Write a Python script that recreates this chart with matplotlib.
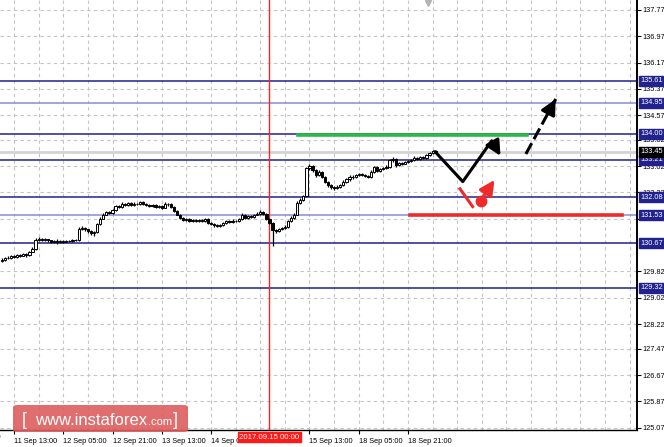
import matplotlib.pyplot as plt
import matplotlib.transforms as mtransforms
from matplotlib.patches import FancyBboxPatch

plt.rcParams['font.family'] = ['Liberation Sans', 'DejaVu Sans']

# hourly candles, index 0 = 11 Sep 09:00
closes = [130.18, 130.22, 130.24, 130.28, 130.26, 130.31, 130.30, 130.35, 130.33, 130.42, 130.50,
          130.78, 130.82, 130.78, 130.80, 130.76, 130.72, 130.75, 130.70, 130.74, 130.72, 130.75, 130.73, 130.77, 130.76,
          131.12, 131.15, 131.10, 131.05, 130.98, 131.02, 131.25, 131.42, 131.55, 131.62, 131.60, 131.68,
          131.80, 131.78, 131.88, 131.85, 131.90, 131.84, 131.88, 131.86, 131.92, 131.87, 131.85, 131.80, 131.83,
          131.78, 131.80, 131.76, 131.88, 131.86, 131.78,
          131.65, 131.55, 131.45, 131.38, 131.40, 131.35, 131.38, 131.36, 131.38, 131.35, 131.40,
          131.30, 131.25, 131.22, 131.20, 131.24, 131.28, 131.35, 131.33, 131.36, 131.34, 131.40,
          131.55, 131.45, 131.50, 131.48, 131.55, 131.58, 131.62, 131.57, 131.42, 131.30, 131.08,
          131.05, 131.10, 131.14, 131.18, 131.35, 131.45, 131.55, 131.90, 132.00, 132.10,
          132.95,
          133.02, 132.90, 132.75, 132.85, 132.70, 132.55, 132.45, 132.38, 132.36, 132.40, 132.45, 132.55, 132.62,
          132.70, 132.68, 132.75, 132.78, 132.76, 132.72, 132.70, 132.85, 132.98, 132.88, 132.92, 132.95, 133.00,
          133.20, 133.25, 133.05, 133.12, 133.10, 133.15, 133.18, 133.20, 133.28, 133.25, 133.30, 133.28, 133.35,
          133.42, 133.48, 133.45]
opens = [130.15] + closes[:-1]
highs = [130.22, 130.26, 130.28, 130.31, 130.32, 130.34, 130.35, 130.38, 130.38, 130.45, 130.55,
         130.84, 130.86, 130.85, 130.84, 130.82, 130.79, 130.78, 130.80, 130.77, 130.78, 130.78, 130.77, 130.80, 130.80,
         131.16, 131.19, 131.18, 131.12, 131.08, 131.06, 131.30, 131.46, 131.60, 131.66, 131.67, 131.72,
         131.84, 131.84, 131.92, 131.91, 131.94, 131.93, 131.92, 131.91, 131.96, 131.95, 131.90, 131.88, 131.86,
         131.86, 131.83, 131.83, 131.92, 131.91, 131.89,
         131.80, 131.68, 131.58, 131.48, 131.44, 131.43, 131.41, 131.40, 131.41, 131.40, 131.44,
         131.43, 131.33, 131.28, 131.25, 131.27, 131.31, 131.38, 131.38, 131.40, 131.38, 131.44,
         131.60, 131.58, 131.54, 131.53, 131.58, 131.62, 131.68, 131.65, 131.60, 131.45, 131.33,
         131.12, 131.14, 131.18, 131.22, 131.38, 131.49, 131.59, 131.95, 132.05, 132.15,
         133.00,
         133.08, 133.06, 132.94, 132.90, 132.88, 132.73, 132.58, 132.49, 132.42, 132.44, 132.49, 132.59, 132.66,
         132.74, 132.74, 132.79, 132.82, 132.81, 132.79, 132.75, 132.89, 133.02, 133.01, 132.96, 132.99, 133.04,
         133.25, 133.30, 133.28, 133.16, 133.15, 133.19, 133.22, 133.24, 133.32, 133.31, 133.34, 133.33, 133.39,
         133.46, 133.52, 133.50]
lows = [130.10, 130.15, 130.19, 130.21, 130.23, 130.24, 130.27, 130.28, 130.26, 130.30, 130.40,
        130.48, 130.75, 130.75, 130.74, 130.72, 130.68, 130.69, 130.66, 130.67, 130.69, 130.70, 130.70, 130.71, 130.73,
        130.74, 131.08, 131.06, 131.00, 130.92, 130.90, 131.00, 131.22, 131.40, 131.52, 131.57, 131.58,
        131.66, 131.74, 131.76, 131.82, 131.82, 131.80, 131.81, 131.83, 131.84, 131.84, 131.82, 131.77, 131.77,
        131.75, 131.75, 131.72, 131.74, 131.82, 131.75,
        131.62, 131.52, 131.42, 131.34, 131.35, 131.32, 131.32, 131.33, 131.33, 131.32, 131.33,
        131.26, 131.22, 131.18, 131.16, 131.17, 131.21, 131.26, 131.30, 131.30, 131.31, 131.31,
        131.38, 131.42, 131.42, 131.45, 131.45, 131.52, 131.55, 131.54, 131.38, 131.26, 130.60,
        130.98, 131.02, 131.07, 131.11, 131.15, 131.32, 131.42, 131.52, 131.86, 131.96,
        132.08,
        132.90, 132.85, 132.70, 132.72, 132.66, 132.50, 132.40, 132.33, 132.31, 132.32, 132.37, 132.42, 132.52,
        132.58, 132.64, 132.65, 132.72, 132.72, 132.68, 132.66, 132.67, 132.82, 132.84, 132.85, 132.89, 132.92,
        132.97, 133.16, 133.00, 133.02, 133.06, 133.07, 133.12, 133.15, 133.17, 133.22, 133.22, 133.25, 133.25,
        133.32, 133.39, 133.41]

price_ticks = [137.77, 136.97, 136.17, 135.37, 134.57, 133.82, 133.02, 132.22, 131.42,
               129.82, 129.02, 128.22, 127.47, 126.67, 125.87, 125.07]
levels = [135.61, 134.95, 134.00, 133.21, 132.08, 131.53, 130.67, 129.32]
light_levels = [134.95, 131.53]
last_price = 133.45

time_ticks = [4, 20, 36, 52, 68, 100, 116, 132]
time_labels = ['11 Sep 13:00', '12 Sep 05:00', '12 Sep 21:00', '13 Sep 13:00', '14 Sep 05:00',
               '15 Sep 13:00', '18 Sep 05:00', '18 Sep 21:00']
marker_bar = 87
marker_label = '2017.09.15 00:00'

# forecast drawing
zig_x = [140.8, 149.8, 159.2, 162.5]
zig_y = [133.46, 132.55, 133.79, 133.26]
dash_x = [170.3, 180.4]
dash_y = [133.39, 135.13]
green_x = [96.3, 170.7]
green_y = 133.96
red_x = [132.6, 201.5]
red_y = 131.53
red_tick_x = [148.9, 153.0]
red_tick_y = [132.33, 131.79]
red_dot = (155.6, 131.97)
red_tip = (160.6, 132.67)

fig = plt.figure(figsize=(6.64, 4.47), dpi=100)
ax = fig.add_axes([0, 17 / 447, 637 / 664, 430 / 447])
ax.set_xlim(-0.55, 206.4)
ax.set_ylim(125.0, 138.07)

navy = '#22228e'
fs = 5.3
grid_kw = dict(color='#c4c4c4', lw=0.8, ls=(0, (3, 3)), zorder=0)
for gx in range(4, 207, 8):
    ax.axvline(gx, **grid_kw)
for p in price_ticks:
    ax.axhline(p, **grid_kw)

ax.axhline(last_price, color='#d4d4d4', lw=2, zorder=1)
for lv in levels:
    ax.axhline(lv, color='#8c8cd6' if lv in light_levels else navy, lw=1.1, zorder=2)

ax.axvline(marker_bar, color='#ff2020', lw=1, zorder=3)

# candles
xs = list(range(len(closes)))
ax.vlines(xs, lows, highs, color='black', lw=0.9, zorder=4)
for i in xs:
    o, c = opens[i], closes[i]
    fc = 'white' if c >= o else 'black'
    h = abs(c - o) if abs(c - o) > 0.02 else 0.02
    ax.bar(i, h, bottom=min(o, c), width=0.72, color=fc, edgecolor='black', lw=0.7, zorder=5)

# forecast lines
arrow = '-|>,head_length=0.9,head_width=0.45'
ax.plot(green_x, [green_y, green_y], color='#2db84a', lw=2.6, zorder=6)
ax.plot(red_x, [red_y, red_y], color='#ee2a2a', lw=2.6, zorder=6)
ax.plot(zig_x[:3], zig_y[:3], color='black', lw=2.2, solid_capstyle='round', zorder=7)
ax.annotate('', xy=(zig_x[3], zig_y[3]), xytext=(zig_x[2], zig_y[2]),
            arrowprops=dict(arrowstyle=arrow, color='black', lw=2.2), zorder=7)
ax.plot(dash_x, dash_y, color='black', lw=2.2, ls=(0, (4, 1.5)), zorder=7)
ax.annotate('', xy=(dash_x[1], dash_y[1]), xytext=(dash_x[1] - 1.5, dash_y[1] - 0.26),
            arrowprops=dict(arrowstyle=arrow, color='black', lw=2.2), zorder=7)
ax.plot(red_tick_x, red_tick_y, color='#ee2a2a', lw=2.2, zorder=7)
ax.plot(*red_dot, 'o', color='#ee2a2a', ms=7.5, zorder=8)
ax.annotate('', xy=red_tip, xytext=red_dot,
            arrowprops=dict(arrowstyle=arrow, color='#ee2a2a', lw=2.2), zorder=8)
ax.plot(138.5, 137.98, 'v', color='#b4b4b4', ms=4, zorder=8)

# axes styling
for s in ['left', 'top']:
    ax.spines[s].set_visible(False)
ax.spines['right'].set_linewidth(1.4)
ax.spines['bottom'].set_linewidth(1.0)
ax.yaxis.tick_right()
ax.set_yticks(price_ticks)
ax.set_yticklabels([f'{p:.2f}' for p in price_ticks], fontsize=fs)
ax.tick_params(axis='y', length=3, pad=1, width=0.8)
ax.set_xticks(time_ticks)
ax.set_xticklabels(time_labels, fontsize=fs, ha='left')
ax.tick_params(axis='x', length=3, pad=2.5, width=0.8)
xtrans = mtransforms.blended_transform_factory(ax.transData, ax.transAxes)
ax.text(-13.2, -0.0165, '8 Sep 21:00', transform=xtrans, fontsize=fs, ha='left', va='center', clip_on=False)

ytrans = mtransforms.blended_transform_factory(ax.transAxes, ax.transData)
for lv in levels:
    ax.text(1.005, lv, f'{lv:.2f}', transform=ytrans, fontsize=fs, color='white', va='center', ha='left',
            bbox=dict(boxstyle='square,pad=0.2', fc=navy, ec=navy), zorder=10, clip_on=False)
ax.text(1.005, last_price, f'{last_price:.2f}', transform=ytrans, fontsize=fs, color='white', va='center',
        ha='left', bbox=dict(boxstyle='square,pad=0.2', fc='black', ec='black'), zorder=11, clip_on=False)

ax.text(marker_bar, -0.0165, marker_label, transform=xtrans, fontsize=5.6, color='white', ha='center',
        va='center', bbox=dict(boxstyle='square,pad=0.2', fc='#ff1a1a', ec='#ff1a1a'), zorder=12, clip_on=False)

# watermark
box = FancyBboxPatch((13 / 664, 15 / 447), 175 / 664, 27 / 447, boxstyle='round,pad=0,rounding_size=0.006',
                     transform=fig.transFigure, fc='#dd5e5e', ec='none', alpha=0.9, zorder=20)
fig.add_artist(box)
by = 1 - 425 / 447
fig.text(22 / 664, by, '[', fontsize=13, color='white', va='baseline', zorder=21)
fig.text(35 / 664, by, 'www.instaforex', fontsize=12, color='white', va='baseline', zorder=21)
fig.text(148 / 664, by, '.com', fontsize=8, color='white', va='baseline', zorder=21)
fig.text(173 / 664, by, ']', fontsize=13, color='white', va='baseline', zorder=21)

fig.savefig('out.png', dpi=100)
